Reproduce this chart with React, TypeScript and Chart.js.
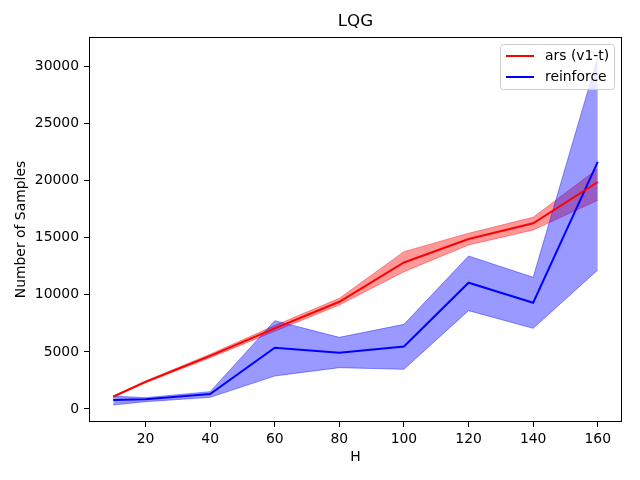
import { useEffect, useRef } from 'react';
import { Chart, registerables } from 'chart.js';

Chart.register(...registerables);

// horizon lengths H
const H = [10, 20, 40, 60, 80, 100, 120, 140, 160];

// ars (v1-t): mean and band
const arsMean = [1080, 2380, 4650, 7060, 9400, 12840, 14900, 16280, 19890];
const arsLow = [1020, 2300, 4500, 6810, 9110, 12030, 14370, 15690, 18290];
const arsHigh = [1140, 2460, 4800, 7310, 9700, 13790, 15400, 16800, 21060];

// reinforce: mean and band
const rfMean = [785, 845, 1310, 5370, 4940, 5470, 11070, 9310, 21650];
const rfLow = [350, 640, 1020, 2890, 3620, 3480, 8620, 7070, 12180];
const rfHigh = [1130, 990, 1520, 7740, 6280, 7420, 13410, 11540, 30850];

const xTicks = [20, 40, 60, 80, 100, 120, 140, 160];
const yTicks = [0, 5000, 10000, 15000, 20000, 25000, 30000];

const FONT = "'DejaVu Sans', sans-serif";

const pts = (ys: number[]) => H.map((x, i) => ({ x, y: ys[i] }));

// matplotlib-like frame, title and legend inside the axes
const decorations = {
  id: 'decorations',
  afterDraw(chart: Chart) {
    const { ctx } = chart;
    const { left, top, right, bottom } = chart.chartArea;
    ctx.save();
    ctx.strokeStyle = '#000';
    ctx.lineWidth = 1;
    ctx.strokeRect(left + 0.5, top + 0.5, right - left - 1, bottom - top - 1);

    ctx.fillStyle = '#000';
    ctx.textAlign = 'center';
    ctx.textBaseline = 'middle';
    ctx.font = `16.7px ${FONT}`;
    ctx.fillText('LQG', (left + right) / 2, 22);

    // legend box
    const bx = 500.5, by = 44.5, bw = 114, bh = 45;
    ctx.beginPath();
    ctx.roundRect(bx, by, bw, bh, 3);
    ctx.fillStyle = 'rgba(255,255,255,0.8)';
    ctx.fill();
    ctx.strokeStyle = '#cccccc';
    ctx.stroke();

    const items = [
      { label: 'ars (v1-t)', color: '#ff0000', y: 56 },
      { label: 'reinforce', color: '#0000ff', y: 77 },
    ];
    ctx.font = `13.9px ${FONT}`;
    ctx.textAlign = 'left';
    for (const it of items) {
      ctx.beginPath();
      ctx.strokeStyle = it.color;
      ctx.lineWidth = 2;
      ctx.moveTo(506, it.y);
      ctx.lineTo(534, it.y);
      ctx.stroke();
      ctx.fillStyle = '#000';
      ctx.fillText(it.label, 545, it.y);
    }
    ctx.restore();
  },
};

export default function App() {
  const canvasRef = useRef<HTMLCanvasElement | null>(null);

  useEffect(() => {
    document.body.style.margin = '0';
    if (!canvasRef.current) return;

    const band = (color: string) => ({
      borderColor: color,
      backgroundColor: color,
      borderWidth: 1,
      pointRadius: 0,
      tension: 0,
    });

    const chart = new Chart(canvasRef.current, {
      type: 'line',
      data: {
        datasets: [
          // index 0/1: mean lines (drawn last, on top)
          { label: 'ars (v1-t)', data: pts(arsMean), borderColor: '#ff0000', borderWidth: 2, pointRadius: 0, fill: false },
          { label: 'reinforce', data: pts(rfMean), borderColor: '#0000ff', borderWidth: 2, pointRadius: 0, fill: false },
          // blue band
          { label: 'rf low', data: pts(rfLow), ...band('rgba(0,0,255,0.4)'), fill: false },
          { label: 'rf high', data: pts(rfHigh), ...band('rgba(0,0,255,0.4)'), fill: 2 },
          // red band
          { label: 'ars low', data: pts(arsLow), ...band('rgba(255,0,0,0.4)'), fill: false },
          { label: 'ars high', data: pts(arsHigh), ...band('rgba(255,0,0,0.4)'), fill: 4 },
        ],
      },
      options: {
        animation: false,
        responsive: false,
        layout: { padding: { top: 37, right: 18, left: 0, bottom: 0 } },
        scales: {
          x: {
            type: 'linear',
            min: 2.5,
            max: 167.5,
            afterBuildTicks: (axis) => {
              axis.ticks = xTicks.map((v) => ({ value: v }));
            },
            afterFit: (axis) => {
              axis.height = 58;
            },
            ticks: {
              color: '#000',
              padding: 4,
              maxRotation: 0,
              font: { size: 13.9, family: FONT },
              callback: (v) => String(v),
            },
            grid: { display: true, drawOnChartArea: false, drawTicks: true, tickLength: 5, tickColor: '#000' },
            border: { display: false },
            title: { display: true, text: 'H', color: '#000', font: { size: 13.9, family: FONT }, padding: { top: 0, bottom: 14 } },
          },
          y: {
            type: 'linear',
            min: -1140,
            max: 32600,
            afterBuildTicks: (axis) => {
              axis.ticks = yTicks.map((v) => ({ value: v }));
            },
            afterFit: (axis) => {
              axis.width = 89;
            },
            ticks: {
              color: '#000',
              padding: 5,
              font: { size: 13.9, family: FONT },
              callback: (v) => String(v),
            },
            grid: { display: true, drawOnChartArea: false, drawTicks: true, tickLength: 5, tickColor: '#000' },
            border: { display: false },
            title: { display: true, text: 'Number of Samples', color: '#000', font: { size: 13.9, family: FONT }, padding: { top: 13, bottom: 0 } },
          },
        },
        plugins: {
          legend: { display: false },
          title: { display: false },
          tooltip: { enabled: false },
        },
      },
      plugins: [decorations],
    });

    return () => {
      chart.destroy();
    };
  }, []);

  return (
    <div style={{ width: 640, height: 480 }}>
      <canvas ref={canvasRef} width={640} height={480} />
    </div>
  );
}
